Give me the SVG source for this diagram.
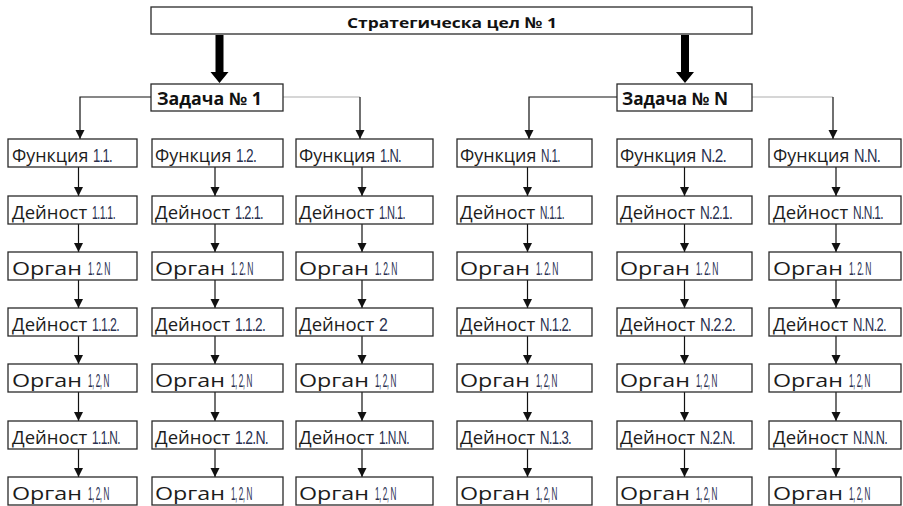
<svg xmlns="http://www.w3.org/2000/svg" width="903" height="506" viewBox="0 0 903 506">
<defs>
<marker id="ah" markerUnits="userSpaceOnUse" markerWidth="10" markerHeight="10" refX="9" refY="4.5" orient="auto">
<path d="M0,0 L9,4.5 L0,9 z" fill="#111"/>
</marker>
<style>
.bx{fill:#fff;stroke:#2a2a2a;stroke-width:1.3}
.t{font-family:"Open Sans","Liberation Sans",Arial,sans-serif;font-size:18px;fill:#1c1c1c}
.n{font-family:"Liberation Sans",Arial,sans-serif;fill:#2a3150;font-size:19px;letter-spacing:-1px}
.b{font-family:"Open Sans","Liberation Sans",Arial,sans-serif;font-weight:bold;fill:#111}
.gr{fill:none;stroke:#c8c8c8;stroke-width:1.3}
.ar{fill:none;stroke:#111;stroke-width:1.2;marker-end:url(#ah)}
.big{fill:#000}
</style>
</defs>
<rect width="903" height="506" fill="#fff"/>

<g id="connectors">
<path class="big" d="M215.5,35 H223.5 V72 H228.5 L219.5,83 L210.5,72 H215.5 Z"/>
<path class="big" d="M681,35 H689 V72 H694 L685,83 L676,72 H681 Z"/>
<path class="ar" d="M151,97 H80 V139"/>
<path class="gr" d="M283,97 H360"/>
<path class="ar" d="M360,97 V139"/>
<path class="ar" d="M617,97 H529 V139"/>
<path class="gr" d="M752,97 H833"/>
<path class="ar" d="M833,97 V139"/>
<path class="ar" d="M78.5,167 V196"/><path class="ar" d="M78.5,224 V252"/><path class="ar" d="M78.5,280 V308"/><path class="ar" d="M78.5,336 V364"/><path class="ar" d="M78.5,392 V421"/><path class="ar" d="M78.5,449 V477"/>
<path class="ar" d="M215,167 V196"/><path class="ar" d="M215,224 V252"/><path class="ar" d="M215,280 V308"/><path class="ar" d="M215,336 V364"/><path class="ar" d="M215,392 V421"/><path class="ar" d="M215,449 V477"/>
<path class="ar" d="M362,167 V196"/><path class="ar" d="M362,224 V252"/><path class="ar" d="M362,280 V308"/><path class="ar" d="M362,336 V364"/><path class="ar" d="M362,392 V421"/><path class="ar" d="M362,449 V477"/>
<path class="ar" d="M527.5,167 V196"/><path class="ar" d="M527.5,224 V252"/><path class="ar" d="M527.5,280 V308"/><path class="ar" d="M527.5,336 V364"/><path class="ar" d="M527.5,392 V421"/><path class="ar" d="M527.5,449 V477"/>
<path class="ar" d="M684.5,167 V196"/><path class="ar" d="M684.5,224 V252"/><path class="ar" d="M684.5,280 V308"/><path class="ar" d="M684.5,336 V364"/><path class="ar" d="M684.5,392 V421"/><path class="ar" d="M684.5,449 V477"/>
<path class="ar" d="M836,167 V196"/><path class="ar" d="M836,224 V252"/><path class="ar" d="M836,280 V308"/><path class="ar" d="M836,336 V364"/><path class="ar" d="M836,392 V421"/><path class="ar" d="M836,449 V477"/>
</g>

<g id="goal"><rect class="bx" x="151" y="7" width="601" height="27"/><text class="b" x="347" y="28" font-size="15" textLength="210" lengthAdjust="spacingAndGlyphs">Стратегическа цел № 1</text></g>
<g id="task1"><rect class="bx" x="151" y="84" width="132" height="27"/><text class="b" x="157" y="105" font-size="17" textLength="105" lengthAdjust="spacingAndGlyphs">Задача № 1</text></g>
<g id="taskN"><rect class="bx" x="617" y="84" width="135" height="27"/><text class="b" x="622" y="105" font-size="17" textLength="106" lengthAdjust="spacingAndGlyphs">Задача № N</text></g>

<!-- column 1 -->
<g id="c1r1"><rect class="bx" x="8" y="139" width="129" height="28"/><text class="t" x="12" y="162"><tspan textLength="81" lengthAdjust="spacingAndGlyphs">Функция </tspan><tspan class="n" textLength="19" lengthAdjust="spacingAndGlyphs">1.1.</tspan></text></g>
<g id="c1r2"><rect class="bx" x="8" y="196" width="129" height="28"/><text class="t" x="12" y="219"><tspan textLength="80" lengthAdjust="spacingAndGlyphs">Дейност </tspan><tspan class="n" textLength="23" lengthAdjust="spacingAndGlyphs">1.1.1.</tspan></text></g>
<g id="c1r3"><rect class="bx" x="8" y="252" width="129" height="28"/><text class="t" x="12" y="275"><tspan textLength="76" lengthAdjust="spacingAndGlyphs">Орган </tspan><tspan class="n" textLength="22" lengthAdjust="spacingAndGlyphs">1. 2. N</tspan></text></g>
<g id="c1r4"><rect class="bx" x="8" y="308" width="129" height="28"/><text class="t" x="12" y="331"><tspan textLength="80" lengthAdjust="spacingAndGlyphs">Дейност </tspan><tspan class="n" textLength="27" lengthAdjust="spacingAndGlyphs">1.1.2.</tspan></text></g>
<g id="c1r5"><rect class="bx" x="8" y="364" width="129" height="28"/><text class="t" x="12" y="387"><tspan textLength="76" lengthAdjust="spacingAndGlyphs">Орган </tspan><tspan class="n" textLength="21" lengthAdjust="spacingAndGlyphs">1, 2, N</tspan></text></g>
<g id="c1r6"><rect class="bx" x="8" y="421" width="129" height="28"/><text class="t" x="12" y="444"><tspan textLength="80" lengthAdjust="spacingAndGlyphs">Дейност </tspan><tspan class="n" textLength="28" lengthAdjust="spacingAndGlyphs">1.1.N.</tspan></text></g>
<g id="c1r7"><rect class="bx" x="8" y="477" width="129" height="28"/><text class="t" x="12" y="500"><tspan textLength="76" lengthAdjust="spacingAndGlyphs">Орган </tspan><tspan class="n" textLength="21" lengthAdjust="spacingAndGlyphs">1, 2, N</tspan></text></g>

<!-- column 2 -->
<g id="c2r1"><rect class="bx" x="152" y="139" width="131" height="28"/><text class="t" x="155" y="162"><tspan textLength="81" lengthAdjust="spacingAndGlyphs">Функция </tspan><tspan class="n" textLength="20" lengthAdjust="spacingAndGlyphs">1.2.</tspan></text></g>
<g id="c2r2"><rect class="bx" x="152" y="196" width="131" height="28"/><text class="t" x="155" y="219"><tspan textLength="80" lengthAdjust="spacingAndGlyphs">Дейност </tspan><tspan class="n" textLength="28" lengthAdjust="spacingAndGlyphs">1.2.1.</tspan></text></g>
<g id="c2r3"><rect class="bx" x="152" y="252" width="131" height="28"/><text class="t" x="155" y="275"><tspan textLength="76" lengthAdjust="spacingAndGlyphs">Орган </tspan><tspan class="n" textLength="22" lengthAdjust="spacingAndGlyphs">1. 2. N</tspan></text></g>
<g id="c2r4"><rect class="bx" x="152" y="308" width="131" height="28"/><text class="t" x="155" y="331"><tspan textLength="80" lengthAdjust="spacingAndGlyphs">Дейност </tspan><tspan class="n" textLength="30" lengthAdjust="spacingAndGlyphs">1.1.2.</tspan></text></g>
<g id="c2r5"><rect class="bx" x="152" y="364" width="131" height="28"/><text class="t" x="155" y="387"><tspan textLength="76" lengthAdjust="spacingAndGlyphs">Орган </tspan><tspan class="n" textLength="21" lengthAdjust="spacingAndGlyphs">1, 2, N</tspan></text></g>
<g id="c2r6"><rect class="bx" x="152" y="421" width="131" height="28"/><text class="t" x="155" y="444"><tspan textLength="80" lengthAdjust="spacingAndGlyphs">Дейност </tspan><tspan class="n" textLength="33" lengthAdjust="spacingAndGlyphs">1.2.N.</tspan></text></g>
<g id="c2r7"><rect class="bx" x="152" y="477" width="131" height="28"/><text class="t" x="155" y="500"><tspan textLength="76" lengthAdjust="spacingAndGlyphs">Орган </tspan><tspan class="n" textLength="21" lengthAdjust="spacingAndGlyphs">1, 2, N</tspan></text></g>

<!-- column 3 -->
<g id="c3r1"><rect class="bx" x="296" y="139" width="137" height="28"/><text class="t" x="299" y="162"><tspan textLength="81" lengthAdjust="spacingAndGlyphs">Функция </tspan><tspan class="n" textLength="21" lengthAdjust="spacingAndGlyphs">1.N.</tspan></text></g>
<g id="c3r2"><rect class="bx" x="296" y="196" width="137" height="28"/><text class="t" x="299" y="219"><tspan textLength="80" lengthAdjust="spacingAndGlyphs">Дейност </tspan><tspan class="n" textLength="26" lengthAdjust="spacingAndGlyphs">1.N.1.</tspan></text></g>
<g id="c3r3"><rect class="bx" x="296" y="252" width="137" height="28"/><text class="t" x="299" y="275"><tspan textLength="76" lengthAdjust="spacingAndGlyphs">Орган </tspan><tspan class="n" textLength="22" lengthAdjust="spacingAndGlyphs">1. 2. N</tspan></text></g>
<g id="c3r4"><rect class="bx" x="296" y="308" width="137" height="28"/><text class="t" x="299" y="331"><tspan textLength="80" lengthAdjust="spacingAndGlyphs">Дейност </tspan><tspan class="n" textLength="8" lengthAdjust="spacingAndGlyphs">2</tspan></text></g>
<g id="c3r5"><rect class="bx" x="296" y="364" width="137" height="28"/><text class="t" x="299" y="387"><tspan textLength="76" lengthAdjust="spacingAndGlyphs">Орган </tspan><tspan class="n" textLength="21" lengthAdjust="spacingAndGlyphs">1, 2, N</tspan></text></g>
<g id="c3r6"><rect class="bx" x="296" y="421" width="137" height="28"/><text class="t" x="299" y="444"><tspan textLength="80" lengthAdjust="spacingAndGlyphs">Дейност </tspan><tspan class="n" textLength="30" lengthAdjust="spacingAndGlyphs">1.N.N.</tspan></text></g>
<g id="c3r7"><rect class="bx" x="296" y="477" width="137" height="28"/><text class="t" x="299" y="500"><tspan textLength="76" lengthAdjust="spacingAndGlyphs">Орган </tspan><tspan class="n" textLength="21" lengthAdjust="spacingAndGlyphs">1, 2, N</tspan></text></g>

<!-- column 4 -->
<g id="c4r1"><rect class="bx" x="457" y="139" width="135" height="28"/><text class="t" x="460" y="162"><tspan textLength="81" lengthAdjust="spacingAndGlyphs">Функция </tspan><tspan class="n" textLength="19" lengthAdjust="spacingAndGlyphs">N.1.</tspan></text></g>
<g id="c4r2"><rect class="bx" x="457" y="196" width="135" height="28"/><text class="t" x="460" y="219"><tspan textLength="80" lengthAdjust="spacingAndGlyphs">Дейност </tspan><tspan class="n" textLength="24" lengthAdjust="spacingAndGlyphs">N.1.1.</tspan></text></g>
<g id="c4r3"><rect class="bx" x="457" y="252" width="135" height="28"/><text class="t" x="460" y="275"><tspan textLength="76" lengthAdjust="spacingAndGlyphs">Орган </tspan><tspan class="n" textLength="22" lengthAdjust="spacingAndGlyphs">1. 2. N</tspan></text></g>
<g id="c4r4"><rect class="bx" x="457" y="308" width="135" height="28"/><text class="t" x="460" y="331"><tspan textLength="80" lengthAdjust="spacingAndGlyphs">Дейност </tspan><tspan class="n" textLength="31" lengthAdjust="spacingAndGlyphs">N.1.2.</tspan></text></g>
<g id="c4r5"><rect class="bx" x="457" y="364" width="135" height="28"/><text class="t" x="460" y="387"><tspan textLength="76" lengthAdjust="spacingAndGlyphs">Орган </tspan><tspan class="n" textLength="21" lengthAdjust="spacingAndGlyphs">1, 2, N</tspan></text></g>
<g id="c4r6"><rect class="bx" x="457" y="421" width="135" height="28"/><text class="t" x="460" y="444"><tspan textLength="80" lengthAdjust="spacingAndGlyphs">Дейност </tspan><tspan class="n" textLength="31" lengthAdjust="spacingAndGlyphs">N.1.3.</tspan></text></g>
<g id="c4r7"><rect class="bx" x="457" y="477" width="135" height="28"/><text class="t" x="460" y="500"><tspan textLength="76" lengthAdjust="spacingAndGlyphs">Орган </tspan><tspan class="n" textLength="21" lengthAdjust="spacingAndGlyphs">1, 2, N</tspan></text></g>

<!-- column 5 -->
<g id="c5r1"><rect class="bx" x="617" y="139" width="135" height="28"/><text class="t" x="620" y="162"><tspan textLength="81" lengthAdjust="spacingAndGlyphs">Функция </tspan><tspan class="n" textLength="25" lengthAdjust="spacingAndGlyphs">N.2.</tspan></text></g>
<g id="c5r2"><rect class="bx" x="617" y="196" width="135" height="28"/><text class="t" x="620" y="219"><tspan textLength="80" lengthAdjust="spacingAndGlyphs">Дейност </tspan><tspan class="n" textLength="32" lengthAdjust="spacingAndGlyphs">N.2.1.</tspan></text></g>
<g id="c5r3"><rect class="bx" x="617" y="252" width="135" height="28"/><text class="t" x="620" y="275"><tspan textLength="76" lengthAdjust="spacingAndGlyphs">Орган </tspan><tspan class="n" textLength="22" lengthAdjust="spacingAndGlyphs">1. 2. N</tspan></text></g>
<g id="c5r4"><rect class="bx" x="617" y="308" width="135" height="28"/><text class="t" x="620" y="331"><tspan textLength="80" lengthAdjust="spacingAndGlyphs">Дейност </tspan><tspan class="n" textLength="35" lengthAdjust="spacingAndGlyphs">N.2.2.</tspan></text></g>
<g id="c5r5"><rect class="bx" x="617" y="364" width="135" height="28"/><text class="t" x="620" y="387"><tspan textLength="76" lengthAdjust="spacingAndGlyphs">Орган </tspan><tspan class="n" textLength="21" lengthAdjust="spacingAndGlyphs">1, 2, N</tspan></text></g>
<g id="c5r6"><rect class="bx" x="617" y="421" width="135" height="28"/><text class="t" x="620" y="444"><tspan textLength="80" lengthAdjust="spacingAndGlyphs">Дейност </tspan><tspan class="n" textLength="35" lengthAdjust="spacingAndGlyphs">N.2.N.</tspan></text></g>
<g id="c5r7"><rect class="bx" x="617" y="477" width="135" height="28"/><text class="t" x="620" y="500"><tspan textLength="76" lengthAdjust="spacingAndGlyphs">Орган </tspan><tspan class="n" textLength="21" lengthAdjust="spacingAndGlyphs">1, 2, N</tspan></text></g>

<!-- column 6 -->
<g id="c6r1"><rect class="bx" x="769" y="139" width="132" height="28"/><text class="t" x="773" y="162"><tspan textLength="81" lengthAdjust="spacingAndGlyphs">Функция </tspan><tspan class="n" textLength="26" lengthAdjust="spacingAndGlyphs">N.N.</tspan></text></g>
<g id="c6r2"><rect class="bx" x="769" y="196" width="132" height="28"/><text class="t" x="773" y="219"><tspan textLength="80" lengthAdjust="spacingAndGlyphs">Дейност </tspan><tspan class="n" textLength="30" lengthAdjust="spacingAndGlyphs">N.N.1.</tspan></text></g>
<g id="c6r3"><rect class="bx" x="769" y="252" width="132" height="28"/><text class="t" x="773" y="275"><tspan textLength="76" lengthAdjust="spacingAndGlyphs">Орган </tspan><tspan class="n" textLength="22" lengthAdjust="spacingAndGlyphs">1. 2. N</tspan></text></g>
<g id="c6r4"><rect class="bx" x="769" y="308" width="132" height="28"/><text class="t" x="773" y="331"><tspan textLength="80" lengthAdjust="spacingAndGlyphs">Дейност </tspan><tspan class="n" textLength="33" lengthAdjust="spacingAndGlyphs">N.N.2.</tspan></text></g>
<g id="c6r5"><rect class="bx" x="769" y="364" width="132" height="28"/><text class="t" x="773" y="387"><tspan textLength="76" lengthAdjust="spacingAndGlyphs">Орган </tspan><tspan class="n" textLength="21" lengthAdjust="spacingAndGlyphs">1, 2, N</tspan></text></g>
<g id="c6r6"><rect class="bx" x="769" y="421" width="132" height="28"/><text class="t" x="773" y="444"><tspan textLength="80" lengthAdjust="spacingAndGlyphs">Дейност </tspan><tspan class="n" textLength="34" lengthAdjust="spacingAndGlyphs">N.N.N.</tspan></text></g>
<g id="c6r7"><rect class="bx" x="769" y="477" width="132" height="28"/><text class="t" x="773" y="500"><tspan textLength="76" lengthAdjust="spacingAndGlyphs">Орган </tspan><tspan class="n" textLength="21" lengthAdjust="spacingAndGlyphs">1, 2, N</tspan></text></g>
</svg>
